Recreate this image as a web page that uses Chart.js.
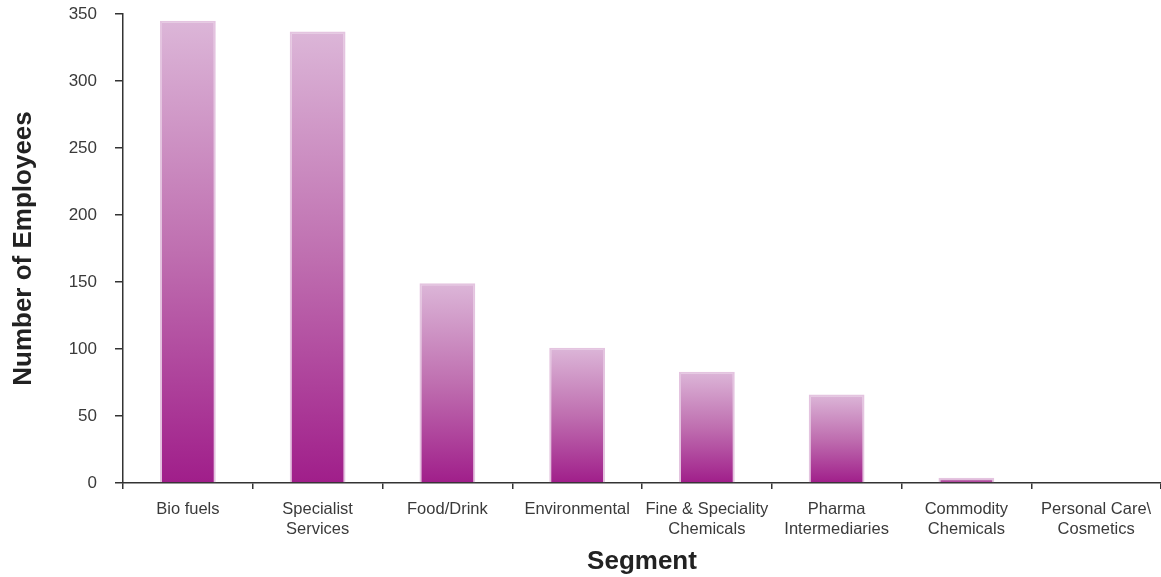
<!DOCTYPE html>
<html>
<head>
<meta charset="utf-8">
<script src="https://cdn.jsdelivr.net/npm/chart.js@4.4.1/dist/chart.umd.min.js"></script>
<style>
  html, body { margin: 0; padding: 0; background: #ffffff; }
  #wrap { width: 1161px; height: 577px; position: relative; }
</style>
</head>
<body>
<div id="wrap"><canvas id="c" width="1161" height="577"></canvas></div>
<script>
const categories = [
  'Bio fuels',
  ['Specialist', 'Services'],
  'Food/Drink',
  'Environmental',
  ['Fine & Speciality', 'Chemicals'],
  ['Pharma', 'Intermediaries'],
  ['Commodity', 'Chemicals'],
  ['Personal Care\\', 'Cosmetics']
];
const employees = [345, 337, 149, 101, 83, 66, 4, 0];
const yTicks = [0, 50, 100, 150, 200, 250, 300, 350];

const FONT = '"Liberation Sans", Arial, Helvetica, sans-serif';

function barGradient(ctx) {
  const chart = ctx.chart;
  const y = chart.scales && chart.scales.y;
  if (!y || ctx.type !== 'data') return '#c070b0';
  const v = ctx.raw;
  const top = y.getPixelForValue(v);
  const bottom = y.getPixelForValue(0);
  if (!isFinite(top) || !isFinite(bottom) || Math.abs(bottom - top) < 1) return '#d4a8cc';
  const g = chart.ctx.createLinearGradient(0, top, 0, bottom);
  g.addColorStop(0, '#dcb6d8');
  g.addColorStop(0.5, '#bf6fb0');
  g.addColorStop(1, '#a01e8a');
  return g;
}

new Chart(document.getElementById('c'), {
  type: 'bar',
  data: {
    labels: categories,
    datasets: [{
      data: employees,
      backgroundColor: barGradient,
      borderColor: '#e4c4e0',
      borderWidth: 2,
      borderSkipped: 'bottom',
      barPercentage: 0.43,
      categoryPercentage: 1.0
    }]
  },
  options: {
    responsive: false,
    animation: false,
    devicePixelRatio: 1,
    layout: { padding: { left: 0, right: 0, top: 14, bottom: 0 } },
    plugins: {
      legend: { display: false },
      tooltip: { enabled: false }
    },
    scales: {
      x: {
        offset: true,
        afterFit: (axis) => { axis.height = 94; axis.paddingLeft = 0; axis.paddingRight = 0; },
        grid: {
          offset: true,
          drawOnChartArea: false,
          drawTicks: true,
          tickLength: 6,
          color: '#333333',
          lineWidth: 1.5
        },
        border: { display: true, color: '#333333', width: 1.5 },
        ticks: {
          color: '#3a3a3a',
          font: { family: FONT, size: 16.5 },
          padding: 11,
          maxRotation: 0,
          autoSkip: false
        },
        title: {
          display: true,
          text: 'Segment',
          color: '#222222',
          font: { family: FONT, size: 26, weight: 'bold' },
          padding: { top: 0, bottom: 0 }
        }
      },
      y: {
        min: 0,
        max: 350,
        afterFit: (axis) => { axis.width = 123; axis.paddingTop = 0; axis.paddingBottom = 0; },
        afterBuildTicks: (axis) => { axis.ticks = yTicks.map(v => ({ value: v })); },
        grid: {
          drawOnChartArea: false,
          drawTicks: true,
          tickLength: 8,
          color: '#333333',
          lineWidth: 1.5
        },
        border: { display: true, color: '#333333', width: 1.5 },
        ticks: {
          color: '#3a3a3a',
          font: { family: FONT, size: 17 },
          padding: 18
        },
        title: {
          display: true,
          text: 'Number of Employees',
          color: '#222222',
          font: { family: FONT, size: 26, weight: 'bold' },
          padding: { top: 8, bottom: 0 }
        }
      }
    }
  }
});
</script>
</body>
</html>
